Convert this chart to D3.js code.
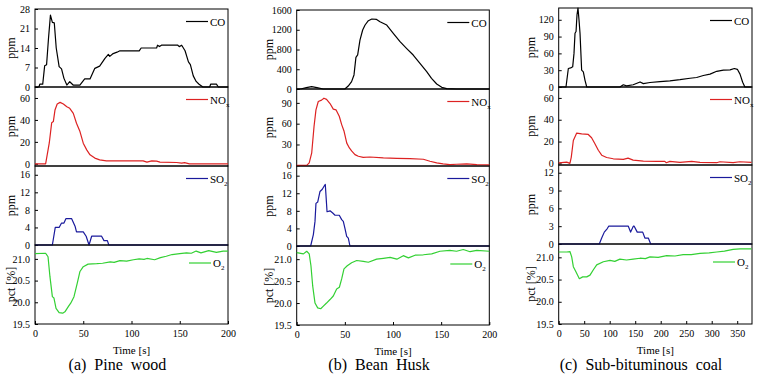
<!DOCTYPE html>
<html>
<head>
<meta charset="utf-8">
<script src="https://cdn.jsdelivr.net/npm/d3@7"></script>
<style>
  body { margin: 0; background: #fff; }
  svg text { font-family: "Liberation Serif", "Times New Roman", Times, serif; fill: #000; }
</style>
</head>
<body>
<div id="chart"></div>
<script>
// ---- data: [time (s), value] ----

// (a) pine wood
var pineCO = [[0,0],[4,0],[5,1],[8,1],[10,7.6],[12,8],[14,17.5],[16,25.8],[18,23.2],[20,23],[22,14],[25,7.3],[27.5,6.5],[30,3.1],[33,0.7],[36,1.9],[39.5,0.7],[46.5,0.7],[51.5,2.9],[57,2.9],[62,6.7],[67,7.5],[72.5,10.3],[76,11.7],[77.5,11],[81,12],[85,12.5],[88,13],[108,13],[110,14],[126,14],[127,15],[129,14.5],[131,15],[148,15],[149.5,14.5],[152,15],[155.5,13],[159,9],[161,8],[164,4],[167,2],[170,1],[174,0],[181,0],[182,1],[188,1],[190,0],[200,0]];
var pineNOx = [[0,0],[11,0],[12,5],[14.8,19],[17.3,37.5],[19,38.5],[20.7,49],[23,54.5],[26,56],[29.4,54.5],[33,52],[36,50.6],[39.7,46],[43,37],[46.6,29.4],[50,18.8],[53.6,12.7],[57,8.2],[62,5.2],[67,3.6],[74,2.7],[112,2.7],[116,1.5],[121,2.7],[126,2.4],[129.5,1.5],[146.8,1.2],[152,0.6],[155,1],[160,0],[200,0]];
var pineSO2 = [[0,0],[18,0],[21,4],[25,4],[27.5,5],[30,5],[32,6],[38,6],[41.5,4.3],[43,3],[50,3],[53,2],[56,0],[58.7,2],[69,2],[71.5,1],[75,1],[76.5,0],[200,0]];
var pineO2 = [[0,21.12],[11,21.13],[13.5,21.05],[15.5,20.59],[18,20.13],[19.6,20.1],[21.8,19.86],[25,19.76],[28.7,19.75],[31,19.78],[34.5,19.9],[37,19.98],[40.4,20.13],[43.8,20.44],[46.6,20.71],[50,20.82],[55,20.88],[64,20.89],[70,20.9],[78,20.93],[82,20.92],[88,20.96],[95,20.95],[102,20.98],[108,21.0],[113,20.99],[116,21.01],[124,20.98],[130,21.03],[136,21.06],[142,21.1],[150,21.12],[157,21.14],[162,21.13],[167,21.18],[172,21.14],[180,21.19],[188,21.15],[195,21.18],[200,21.18]];

// (b) bean husk
var beanCO = [[0,0],[5,5],[10,27],[15.5,47],[21,27],[27.5,0],[50,0],[53.5,60],[57,150],[59.5,285],[61.5,640],[63.3,690],[65.7,990],[68.5,1195],[71,1296],[74.4,1383],[78,1418],[83,1410],[86.5,1363],[93.5,1296],[100.3,1128],[107.3,958],[114,824],[121,688],[128,520],[135,350],[140,216],[145.4,101],[150.6,34],[155.8,7],[166,0],[200,0]];
var beanNOx = [[0,0],[10.4,0],[13,3.5],[15.6,18],[18,56],[20,80],[22.4,92],[25.8,94],[28.3,96.7],[31,95],[34.6,89],[38,81],[40.8,80],[44.2,70.7],[46.7,58.7],[49.2,49],[52,32],[54.7,25],[57,20.7],[60.5,15.4],[64,13],[69,11.5],[76,12],[90,10.6],[104,10],[117.6,9.5],[131.5,8.7],[138.4,5.8],[145.4,3.4],[152,2],[159,1],[166,1.5],[176.6,2],[187,1],[200,0.5]];
var beanSO2 = [[0,0],[14.5,0],[17.3,2.6],[19,5.6],[20,9.7],[21.8,10],[24.2,12.4],[26.6,12.9],[28.7,13.7],[29.7,14],[31.5,7.8],[34.6,8],[37.4,7.5],[39.8,7],[44.2,7],[46.7,6],[48.4,5.6],[50.1,4],[51.9,2.2],[53.6,1.8],[55.3,0],[200,0]];
var beanO2 = [[0,21.15],[7,21.12],[10.4,21.18],[13,21.12],[14.8,20.85],[16.6,20.39],[19,20.0],[21.8,19.89],[24.9,19.87],[27.7,19.93],[31,20.0],[34.6,20.08],[38,20.16],[41.5,20.32],[44.3,20.36],[46.7,20.55],[49.1,20.78],[52.5,20.85],[57,20.92],[62.3,20.97],[69.2,20.95],[74.4,20.93],[83,21.0],[90,21.02],[97,21.04],[104,21.0],[110.7,21.08],[116,21.03],[122.9,21.09],[131.5,21.1],[140.2,21.12],[148.8,21.18],[159,21.2],[166,21.18],[173,21.22],[180,21.17],[187,21.2],[200,21.18]];

// (c) sub-bituminous coal
var coalCO = [[0,0],[14.3,0],[18.9,33],[23.5,34],[27.4,36],[30,60],[32,96],[34,99],[35.9,129],[37.8,141],[39.8,120],[41.8,96],[45,30],[48.3,27],[51.6,12],[55,0],[120,0],[126.7,4],[133,2],[146,4],[159.5,9],[166,6],[179,8],[198.6,9.5],[218,11],[237.8,13],[257.5,15.6],[270.5,17],[283.6,20.5],[296.7,23],[309.8,28],[322.9,30],[336,30.6],[344.4,33],[350.3,31.6],[355.5,23],[360.7,8.5],[365,0],[378,0]];
var coalNOx = [[0,0.5],[15.7,1.1],[22,0],[24.6,5.5],[28.7,21],[35.3,27.8],[45,27],[58,26.5],[64.5,23.5],[71,18],[77.7,12],[84.3,7.5],[94,5.4],[107,4.2],[126.7,3.6],[136,4.8],[146,3],[166,2],[192,1.8],[208,1.8],[211,0.6],[218,1.8],[237.8,0.9],[260.8,1.8],[277,0.9],[309.8,0.6],[316,1.5],[342,0.6],[355,1.5],[378,0.9]];
var coalSO2 = [[0,0],[79.6,0],[84.3,1],[89.4,2],[95.3,2.6],[98,3],[136.5,3],[141,2],[146.3,3],[148,3],[154,2],[164.7,2],[169,1],[175.7,1],[180.4,0],[378,0]];
var coalO2 = [[0,21.12],[15.7,21.12],[22,21.13],[25.5,21.01],[28.7,20.79],[34,20.67],[40.5,20.52],[47,20.56],[55,20.56],[61.4,20.6],[68,20.72],[74.5,20.83],[87.5,20.9],[100.6,20.93],[110,20.91],[120,20.96],[133,20.94],[146,20.96],[159.5,20.98],[170,20.97],[179,21.01],[195,21.0],[211.8,21.04],[228,21.03],[244,21.06],[260,21.06],[277,21.09],[295,21.1],[309.8,21.12],[325,21.14],[342,21.18],[355.5,21.19],[378,21.19]];

// axis ticks and labels
var timeTicksShort = [0, 50, 100, 150, 200];
var timeTicksLong = [0, 50, 100, 150, 200, 250, 300, 350];
var o2Ticks = [19.5, 20.0, 20.5, 21.0];
var captions = ['(a)  Pine  wood', '(b)  Bean  Husk', '(c)  Sub-bituminous  coal'];

var colors = { CO: '#000000', NOx: '#dd2222', SO2: '#1a1a9c', O2: '#33d033' };
var serif = '"Liberation Serif", "Times New Roman", Times, serif';

var panels = [
  { left: 35, right: 228, rows: [9, 87, 166, 245, 324], xMax: 200, xTicks: timeTicksShort, labelX: 11, capX: 117.5,
    series: [
      { name: 'CO', data: pineCO, domain: [0, 28], ticks: [0, 7, 14, 21, 28] },
      { name: 'NOx', data: pineNOx, domain: [-2, 70], ticks: [0, 20, 40, 60] },
      { name: 'SO2', data: pineSO2, domain: [0, 18], ticks: [0, 4, 8, 12, 16] },
      { name: 'O2', data: pineO2, domain: [19.5, 21.32], ticks: o2Ticks }
    ] },
  { left: 296.7, right: 489.3, rows: [10, 89, 166, 246, 325], xMax: 200, xTicks: timeTicksShort, labelX: 269, capX: 379,
    series: [
      { name: 'CO', data: beanCO, domain: [0, 1600], ticks: [0, 400, 800, 1200, 1600] },
      { name: 'NOx', data: beanNOx, domain: [-1, 110], ticks: [0, 30, 60, 90] },
      { name: 'SO2', data: beanSO2, domain: [0, 18.2], ticks: [0, 4, 8, 12, 16] },
      { name: 'O2', data: beanO2, domain: [19.5, 21.3], ticks: o2Ticks }
    ] },
  { left: 558.7, right: 752, rows: [8, 87, 165, 244, 324], xMax: 379, xTicks: timeTicksLong, labelX: 531, capX: 641,
    series: [
      { name: 'CO', data: coalCO, domain: [0, 141], ticks: [0, 30, 60, 90, 120] },
      { name: 'NOx', data: coalNOx, domain: [-1.5, 70], ticks: [0, 20, 40, 60] },
      { name: 'SO2', data: coalSO2, domain: [0, 13.3], ticks: [0, 3, 6, 9, 12] },
      { name: 'O2', data: coalO2, domain: [19.5, 21.3], ticks: o2Ticks }
    ] }
];

var svg = d3.select('#chart')
  .append('svg')
    .attr('width', 757)
    .attr('height', 379)
    .attr('font-family', serif);

panels.forEach(function (p, pi) {
  var x = d3.scaleLinear().domain([0, p.xMax]).range([p.left, p.right]);
  var g = svg.append('g').attr('class', 'panel');

  p.series.forEach(function (s, si) {
    var top = p.rows[si], bottom = p.rows[si + 1];
    var y = d3.scaleLinear().domain(s.domain).range([bottom, top]);
    var row = g.append('g');

    // frame
    row.append('rect')
      .attr('x', p.left).attr('y', top)
      .attr('width', p.right - p.left).attr('height', bottom - top)
      .attr('fill', 'none').attr('stroke', '#000').attr('stroke-width', 1);

    // y axis, ticks inward
    var fmt = s.name === 'O2' ? d3.format('.1f') : d3.format('d');
    var yAxis = row.append('g')
      .attr('transform', 'translate(' + p.left + ',0)')
      .call(d3.axisLeft(y).tickValues(s.ticks).tickFormat(fmt).tickSizeInner(-3).tickSizeOuter(0).tickPadding(5));
    yAxis.attr('font-family', serif).attr('font-size', 10);
    yAxis.select('.domain').remove();

    // series line
    var line = d3.line()
      .x(function (d) { return x(d[0]); })
      .y(function (d) { return y(d[1]); });
    row.append('path')
      .datum(s.data)
      .attr('d', line)
      .attr('fill', 'none')
      .attr('stroke', colors[s.name])
      .attr('stroke-width', 1.2)
      .attr('stroke-linejoin', 'round');

    // legend
    var isO2 = s.name === 'O2';
    var ly = top + (isO2 ? 18 : 12.5);
    var lx0 = p.right - (isO2 ? 39 : 42);
    row.append('line')
      .attr('x1', lx0).attr('x2', lx0 + 22)
      .attr('y1', ly).attr('y2', ly)
      .attr('stroke', colors[s.name]).attr('stroke-width', 1.2);
    var lt = row.append('text')
      .attr('x', lx0 + 24).attr('y', ly + 4)
      .style('font-size', '11px');
    if (s.name === 'CO') {
      lt.text('CO');
    } else {
      var base = s.name === 'NOx' ? 'NO' : (s.name === 'SO2' ? 'SO' : 'O');
      var sub = s.name === 'NOx' ? 'x' : '2';
      lt.append('tspan').text(base);
      lt.append('tspan').attr('dy', 3).style('font-size', '7px').text(sub);
    }

    // y label
    row.append('text')
      .attr('transform', 'translate(' + p.labelX + ',' + ((top + bottom) / 2) + ') rotate(-90)')
      .attr('text-anchor', 'middle')
      .attr('dy', '0.35em')
      .style('font-size', '12px')
      .text(isO2 ? 'pct [%]' : 'ppm');
  });

  // bottom time axis
  var bottomY = p.rows[4];
  var xAxis = g.append('g')
    .attr('transform', 'translate(0,' + bottomY + ')')
    .call(d3.axisBottom(x).tickValues(p.xTicks).tickSizeInner(-3).tickSizeOuter(0).tickPadding(6));
  xAxis.attr('font-family', serif).attr('font-size', 10);
  xAxis.select('.domain').remove();

  g.append('text')
    .attr('x', (p.left + p.right) / 2)
    .attr('y', bottomY + 30)
    .attr('text-anchor', 'middle')
    .style('font-size', '11px')
    .text('Time [s]');

  g.append('text')
    .attr('x', p.capX)
    .attr('y', 370)
    .attr('text-anchor', 'middle')
    .style('font-size', '16px')
    .style('white-space', 'pre')
    .text(captions[pi]);
});
</script>
</body>
</html>
